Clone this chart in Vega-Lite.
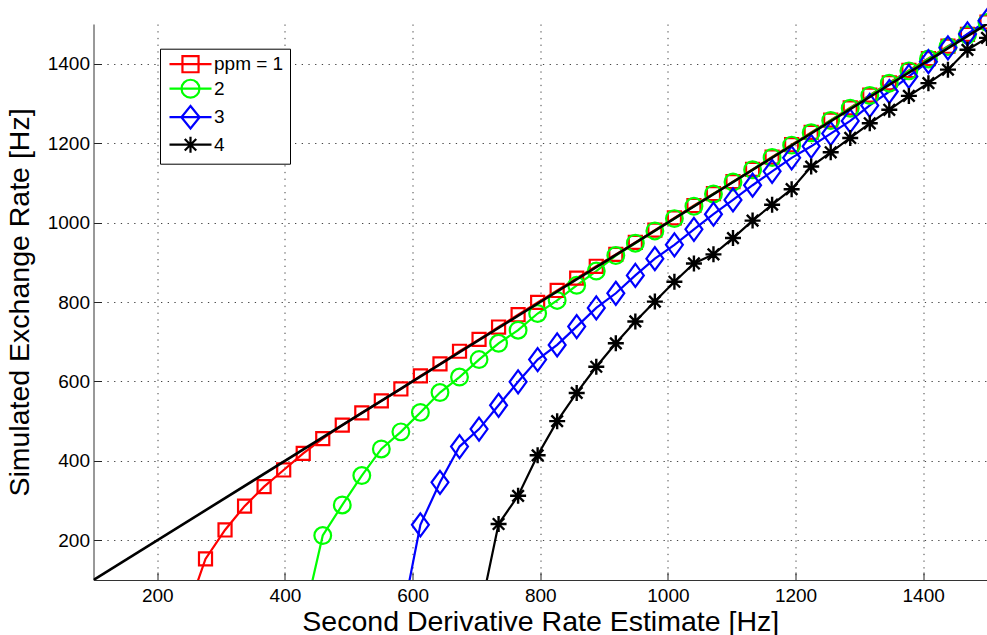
{
  "$schema": "https://vega.github.io/schema/vega-lite/v6.json",
  "width": 893.5,
  "height": 556,
  "autosize": {"type": "none"},
  "padding": {"left": 93.5, "top": 24, "right": 0, "bottom": 55},
  "background": "white",
  "datasets": {
    "curves": [
      {"series": "ppm = 1", "x": 244.9, "y": 12},
      {"series": "ppm = 1", "x": 275.5, "y": 153},
      {"series": "ppm = 1", "x": 306.1, "y": 226},
      {"series": "ppm = 1", "x": 336.7, "y": 286},
      {"series": "ppm = 1", "x": 367.3, "y": 335},
      {"series": "ppm = 1", "x": 398.0, "y": 377},
      {"series": "ppm = 1", "x": 428.6, "y": 419},
      {"series": "ppm = 1", "x": 459.2, "y": 456},
      {"series": "ppm = 1", "x": 489.8, "y": 490},
      {"series": "ppm = 1", "x": 520.4, "y": 521},
      {"series": "ppm = 1", "x": 551.0, "y": 551},
      {"series": "ppm = 1", "x": 581.6, "y": 581},
      {"series": "ppm = 1", "x": 612.2, "y": 614},
      {"series": "ppm = 1", "x": 642.9, "y": 644},
      {"series": "ppm = 1", "x": 673.5, "y": 676},
      {"series": "ppm = 1", "x": 704.1, "y": 706},
      {"series": "ppm = 1", "x": 734.7, "y": 737},
      {"series": "ppm = 1", "x": 765.3, "y": 768},
      {"series": "ppm = 1", "x": 795.9, "y": 799},
      {"series": "ppm = 1", "x": 826.5, "y": 829},
      {"series": "ppm = 1", "x": 857.1, "y": 860},
      {"series": "ppm = 1", "x": 887.8, "y": 890},
      {"series": "ppm = 1", "x": 918.4, "y": 920},
      {"series": "ppm = 1", "x": 949.0, "y": 950},
      {"series": "ppm = 1", "x": 979.6, "y": 981},
      {"series": "ppm = 1", "x": 1010.2, "y": 1012},
      {"series": "ppm = 1", "x": 1040.8, "y": 1043},
      {"series": "ppm = 1", "x": 1071.4, "y": 1073},
      {"series": "ppm = 1", "x": 1102.0, "y": 1103},
      {"series": "ppm = 1", "x": 1132.7, "y": 1134},
      {"series": "ppm = 1", "x": 1163.3, "y": 1165},
      {"series": "ppm = 1", "x": 1193.9, "y": 1196},
      {"series": "ppm = 1", "x": 1224.5, "y": 1227},
      {"series": "ppm = 1", "x": 1255.1, "y": 1258},
      {"series": "ppm = 1", "x": 1285.7, "y": 1289},
      {"series": "ppm = 1", "x": 1316.3, "y": 1321},
      {"series": "ppm = 1", "x": 1346.9, "y": 1352},
      {"series": "ppm = 1", "x": 1377.6, "y": 1383},
      {"series": "ppm = 1", "x": 1408.2, "y": 1413},
      {"series": "ppm = 1", "x": 1438.8, "y": 1444},
      {"series": "ppm = 1", "x": 1469.4, "y": 1474},
      {"series": "ppm = 1", "x": 1500.0, "y": 1505},

      {"series": "2", "x": 428.6, "y": -3},
      {"series": "2", "x": 459.2, "y": 212},
      {"series": "2", "x": 489.8, "y": 289},
      {"series": "2", "x": 520.4, "y": 363},
      {"series": "2", "x": 551.0, "y": 430},
      {"series": "2", "x": 581.6, "y": 473},
      {"series": "2", "x": 612.2, "y": 522},
      {"series": "2", "x": 642.9, "y": 572},
      {"series": "2", "x": 673.5, "y": 611},
      {"series": "2", "x": 704.1, "y": 655},
      {"series": "2", "x": 734.7, "y": 696},
      {"series": "2", "x": 765.3, "y": 729},
      {"series": "2", "x": 795.9, "y": 771},
      {"series": "2", "x": 826.5, "y": 804},
      {"series": "2", "x": 857.1, "y": 842},
      {"series": "2", "x": 887.8, "y": 878},
      {"series": "2", "x": 918.4, "y": 917},
      {"series": "2", "x": 949.0, "y": 948},
      {"series": "2", "x": 979.6, "y": 979},
      {"series": "2", "x": 1010.2, "y": 1010},
      {"series": "2", "x": 1040.8, "y": 1041},
      {"series": "2", "x": 1071.4, "y": 1072},
      {"series": "2", "x": 1102.0, "y": 1102},
      {"series": "2", "x": 1132.7, "y": 1133},
      {"series": "2", "x": 1163.3, "y": 1164},
      {"series": "2", "x": 1193.9, "y": 1195},
      {"series": "2", "x": 1224.5, "y": 1226},
      {"series": "2", "x": 1255.1, "y": 1257},
      {"series": "2", "x": 1285.7, "y": 1288},
      {"series": "2", "x": 1316.3, "y": 1320},
      {"series": "2", "x": 1346.9, "y": 1351},
      {"series": "2", "x": 1377.6, "y": 1382},
      {"series": "2", "x": 1408.2, "y": 1412},
      {"series": "2", "x": 1438.8, "y": 1443},
      {"series": "2", "x": 1469.4, "y": 1473},
      {"series": "2", "x": 1500.0, "y": 1504},

      {"series": "3", "x": 581.6, "y": -12},
      {"series": "3", "x": 612.2, "y": 239},
      {"series": "3", "x": 642.9, "y": 346},
      {"series": "3", "x": 673.5, "y": 436},
      {"series": "3", "x": 704.1, "y": 480},
      {"series": "3", "x": 734.7, "y": 540},
      {"series": "3", "x": 765.3, "y": 599},
      {"series": "3", "x": 795.9, "y": 655},
      {"series": "3", "x": 826.5, "y": 692},
      {"series": "3", "x": 857.1, "y": 738},
      {"series": "3", "x": 887.8, "y": 785},
      {"series": "3", "x": 918.4, "y": 822},
      {"series": "3", "x": 949.0, "y": 867},
      {"series": "3", "x": 979.6, "y": 909},
      {"series": "3", "x": 1010.2, "y": 944},
      {"series": "3", "x": 1040.8, "y": 983},
      {"series": "3", "x": 1071.4, "y": 1021},
      {"series": "3", "x": 1102.0, "y": 1057},
      {"series": "3", "x": 1132.7, "y": 1094},
      {"series": "3", "x": 1163.3, "y": 1129},
      {"series": "3", "x": 1193.9, "y": 1163},
      {"series": "3", "x": 1224.5, "y": 1192},
      {"series": "3", "x": 1255.1, "y": 1224},
      {"series": "3", "x": 1285.7, "y": 1256},
      {"series": "3", "x": 1316.3, "y": 1295},
      {"series": "3", "x": 1346.9, "y": 1330},
      {"series": "3", "x": 1377.6, "y": 1368},
      {"series": "3", "x": 1408.2, "y": 1405},
      {"series": "3", "x": 1438.8, "y": 1440},
      {"series": "3", "x": 1469.4, "y": 1475},
      {"series": "3", "x": 1500.0, "y": 1508},

      {"series": "4", "x": 704.1, "y": 6},
      {"series": "4", "x": 734.7, "y": 241},
      {"series": "4", "x": 765.3, "y": 312},
      {"series": "4", "x": 795.9, "y": 414},
      {"series": "4", "x": 826.5, "y": 500},
      {"series": "4", "x": 857.1, "y": 571},
      {"series": "4", "x": 887.8, "y": 637},
      {"series": "4", "x": 918.4, "y": 696},
      {"series": "4", "x": 949.0, "y": 751},
      {"series": "4", "x": 979.6, "y": 801},
      {"series": "4", "x": 1010.2, "y": 851},
      {"series": "4", "x": 1040.8, "y": 897},
      {"series": "4", "x": 1071.4, "y": 920},
      {"series": "4", "x": 1102.0, "y": 961},
      {"series": "4", "x": 1132.7, "y": 1005},
      {"series": "4", "x": 1163.3, "y": 1045},
      {"series": "4", "x": 1193.9, "y": 1084},
      {"series": "4", "x": 1224.5, "y": 1141},
      {"series": "4", "x": 1255.1, "y": 1177},
      {"series": "4", "x": 1285.7, "y": 1213},
      {"series": "4", "x": 1316.3, "y": 1250},
      {"series": "4", "x": 1346.9, "y": 1284},
      {"series": "4", "x": 1377.6, "y": 1319},
      {"series": "4", "x": 1408.2, "y": 1351},
      {"series": "4", "x": 1438.8, "y": 1385},
      {"series": "4", "x": 1469.4, "y": 1435},
      {"series": "4", "x": 1500.0, "y": 1465}
    ],
    "identity": [
      {"x": 100, "y": 100},
      {"x": 1500, "y": 1500}
    ]
  },
  "layer": [
    {
      "data": {"name": "curves"},
      "mark": {"type": "line", "strokeWidth": 2.2, "clip": true},
      "encoding": {
        "x": {
          "field": "x", "type": "quantitative",
          "title": "Second Derivative Rate Estimate [Hz]",
          "scale": {"domain": [100, 1500], "nice": false, "zero": false},
          "axis": {"values": [200, 400, 600, 800, 1000, 1200, 1400], "format": "d", "labelPadding": 14, "titlePadding": 2}
        },
        "y": {
          "field": "y", "type": "quantitative",
          "title": "Simulated Exchange Rate [Hz]",
          "scale": {"domain": [100, 1500], "nice": false, "zero": false},
          "axis": {"values": [200, 400, 600, 800, 1000, 1200, 1400], "format": "d", "labelPadding": 12, "titlePadding": 13}
        },
        "color": {
          "field": "series", "type": "nominal", "title": null,
          "scale": {"domain": ["ppm = 1", "2", "3", "4"], "range": ["#ff0000", "#00ff00", "#0000ff", "#000000"]}
        }
      }
    },
    {
      "data": {"name": "curves"},
      "transform": [{"filter": "datum.series === 'ppm = 1' && datum.y >= 100"}],
      "mark": {"type": "point", "shape": "square", "size": 170, "filled": false, "strokeWidth": 2.2, "opacity": 1},
      "encoding": {
        "x": {"field": "x", "type": "quantitative"},
        "y": {"field": "y", "type": "quantitative"},
        "color": {"field": "series", "type": "nominal", "title": null}
      }
    },
    {
      "data": {"name": "curves"},
      "transform": [{"filter": "datum.series === '2' && datum.y >= 100"}],
      "mark": {"type": "point", "shape": "circle", "size": 280, "filled": false, "strokeWidth": 2.2, "opacity": 1},
      "encoding": {
        "x": {"field": "x", "type": "quantitative"},
        "y": {"field": "y", "type": "quantitative"},
        "color": {"field": "series", "type": "nominal", "title": null}
      }
    },
    {
      "data": {"name": "curves"},
      "transform": [{"filter": "datum.series === '3' && datum.y >= 100"}],
      "mark": {"type": "point", "shape": "M0,-1.28L0.94,0L0,1.28L-0.94,0Z", "size": 324, "filled": false, "strokeWidth": 2.2, "opacity": 1},
      "encoding": {
        "x": {"field": "x", "type": "quantitative"},
        "y": {"field": "y", "type": "quantitative"},
        "color": {"field": "series", "type": "nominal", "title": null}
      }
    },
    {
      "data": {"name": "curves"},
      "transform": [{"filter": "datum.series === '4' && datum.y >= 100"}],
      "mark": {"type": "point", "shape": "M0,-1L0,1M-1,0L1,0M-0.72,-0.72L0.72,0.72M-0.72,0.72L0.72,-0.72", "size": 256, "filled": false, "strokeWidth": 2.4, "opacity": 1},
      "encoding": {
        "x": {"field": "x", "type": "quantitative"},
        "y": {"field": "y", "type": "quantitative"},
        "color": {"field": "series", "type": "nominal", "title": null}
      }
    },
    {
      "data": {"name": "curves"},
      "transform": [{"filter": "datum.y >= 100"}],
      "mark": {"type": "point", "filled": false, "opacity": 0},
      "encoding": {
        "x": {"field": "x", "type": "quantitative"},
        "y": {"field": "y", "type": "quantitative"},
        "color": {"field": "series", "type": "nominal", "title": null},
        "shape": {
          "field": "series", "type": "nominal", "title": null,
          "scale": {
            "domain": ["ppm = 1", "2", "3", "4"],
            "range": [
              "M-3,0L3,0M-1.15,-1.15L1.15,-1.15L1.15,1.15L-1.15,1.15Z",
              "M-3,0L3,0M1.28,0A1.28,1.28,0,1,1,-1.28,0A1.28,1.28,0,1,1,1.28,0Z",
              "M-3,0L3,0M0,-1.6L1.3,0L0,1.6L-1.3,0Z",
              "M-3,0L3,0M0,-1.15L0,1.15M-0.82,-0.82L0.82,0.82M-0.82,0.82L0.82,-0.82"
            ]
          }
        }
      }
    },
    {
      "data": {"name": "identity"},
      "mark": {"type": "line", "color": "black", "strokeWidth": 2.6, "clip": true},
      "encoding": {
        "x": {"field": "x", "type": "quantitative"},
        "y": {"field": "y", "type": "quantitative"}
      }
    }
  ],
  "config": {
    "font": "Liberation Sans",
    "view": {"stroke": null},
    "axis": {
      "labelFont": "Liberation Sans",
      "labelFontSize": 19,
      "labelColor": "#000000",
      "titleFont": "Liberation Sans",
      "titleFontSize": 28.5,
      "titleFontWeight": "normal",
      "titleColor": "#000000",
      "grid": true,
      "gridColor": "#444444",
      "gridDash": [1.3, 5.4],
      "gridWidth": 1,
      "gridOpacity": 1,
      "tickColor": "#222222",
      "tickSize": -8,
      "tickWidth": 1,
      "domainColor": "#333333",
      "domainWidth": 1
    },
    "legend": {
      "orient": "none",
      "legendX": 66.5,
      "legendY": 24.7,
      "strokeColor": "#000000",
      "fillColor": "#ffffff",
      "padding": 6,
      "labelFont": "Liberation Sans",
      "labelFontSize": 19,
      "labelColor": "#000000",
      "symbolSize": 196,
      "symbolStrokeWidth": 2.2,
      "symbolOpacity": 1,
      "symbolOffset": 15,
      "labelOffset": 14,
      "rowPadding": -1.5
    }
  }
}
